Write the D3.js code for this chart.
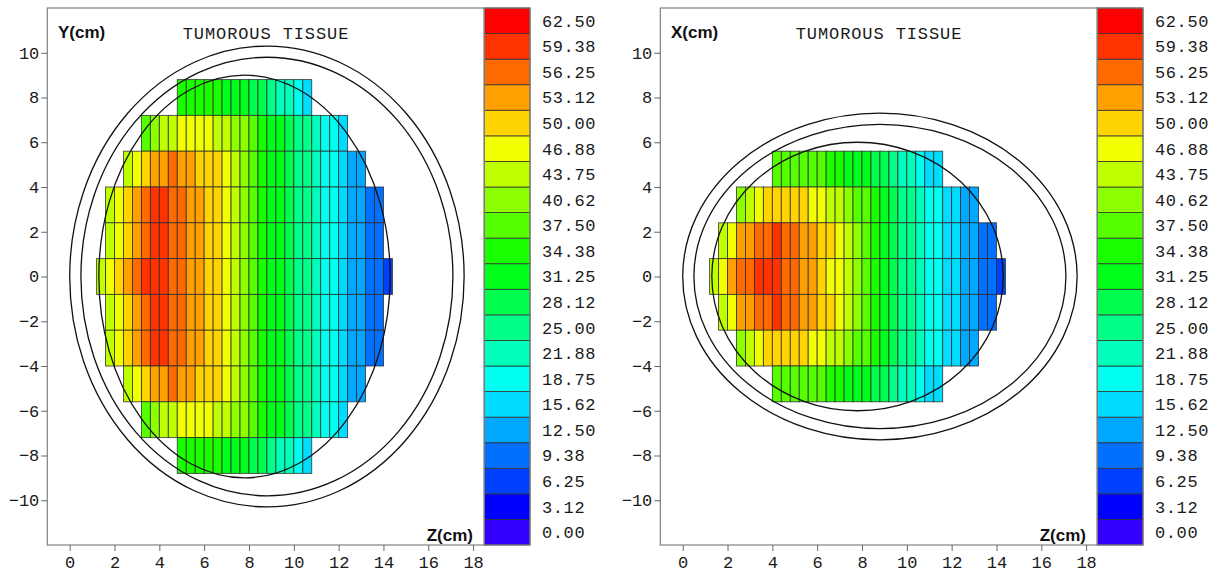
<!DOCTYPE html>
<html>
<head>
<meta charset="utf-8">
<script src="https://cdn.jsdelivr.net/npm/d3@7"></script>
<style>
  body { margin: 0; background: #fff; }
  svg { display: block; }
</style>
</head>
<body>
<div id="chart"></div>
<script>
// colour levels of the scale bar (bottom to top)
const levels = [0.00, 3.12, 6.25, 9.38, 12.50, 15.62, 18.75, 21.88, 25.00, 28.12, 31.25,
                34.38, 37.50, 40.62, 43.75, 46.88, 50.00, 53.12, 56.25, 59.38, 62.50];
const levelColors = ["#3300ff", "#0000ff", "#0040ff", "#0070ff", "#00a8ff", "#00dcff", "#00ffee",
                     "#00ffbb", "#00ff88", "#00ff4d", "#00ff1a", "#1aff00", "#55ff00", "#8cff00",
                     "#bfff00", "#f2ff00", "#ffd400", "#ffa000", "#ff6a00", "#ff3300", "#ff0000"];

const zTicks = [0, 2, 4, 6, 8, 10, 12, 14, 16, 18];
const vTicks = [-10, -8, -6, -4, -2, 0, 2, 4, 6, 8, 10];

const cellWidth = 0.4;   // cm along Z
const rowHeight = 1.6;   // cm across

// Y-Z plane: dose per cell, one array per row (row centre / first Z)
const yzRow8   = [34, 34, 34, 34, 34, 31, 31, 31, 28, 28, 25, 22, 22, 19, 16];
const yzRow6_4 = [37, 41, 44, 44, 47, 47, 47, 47, 44, 44, 41, 41, 37, 34, 31, 31, 28, 25, 25, 22, 19, 19, 16];
const yzRow4_8 = [44, 47, 50, 53, 53, 56, 53, 53, 50, 50, 50, 47, 44, 41, 37, 34, 31, 31, 28, 25, 25, 22, 19, 19, 16, 12, 12];
const yzRow3_2 = [44, 47, 50, 53, 56, 59, 59, 56, 56, 53, 53, 50, 50, 47, 44, 41, 37, 34, 31, 31, 28, 25, 25, 22, 19, 19, 16, 12, 12, 9, 9];
const yzRow1_6 = [44, 47, 50, 53, 56, 59, 59, 56, 56, 53, 53, 50, 50, 47, 44, 41, 37, 34, 31, 31, 28, 25, 25, 22, 19, 19, 16, 12, 12, 9, 9];
const yzRow0   = [44, 47, 50, 53, 56, 59, 59, 59, 56, 56, 53, 53, 50, 50, 47, 44, 41, 37, 34, 31, 31, 28, 25, 25, 22, 19, 19, 16, 12, 12, 9, 9, 6];

const yzRows = [
  { c: 8.0,  z0: 4.8, v: yzRow8 },
  { c: 6.4,  z0: 3.2, v: yzRow6_4 },
  { c: 4.8,  z0: 2.4, v: yzRow4_8 },
  { c: 3.2,  z0: 1.6, v: yzRow3_2 },
  { c: 1.6,  z0: 1.6, v: yzRow1_6 },
  { c: 0.0,  z0: 1.2, v: yzRow0 },
  { c: -1.6, z0: 1.6, v: yzRow1_6 },
  { c: -3.2, z0: 1.6, v: yzRow3_2 },
  { c: -4.8, z0: 2.4, v: yzRow4_8 },
  { c: -6.4, z0: 3.2, v: yzRow6_4 },
  { c: -8.0, z0: 4.8, v: yzRow8 }
];

// X-Z plane
const xzRow4_8 = [37, 37, 37, 37, 37, 37, 34, 34, 31, 31, 31, 28, 28, 25, 22, 22, 19, 16, 16];
const xzRow3_2 = [41, 44, 47, 50, 50, 50, 50, 50, 47, 47, 44, 44, 41, 37, 37, 34, 31, 28, 25, 25, 22, 19, 19, 16, 16, 12, 12];
const xzRow1_6 = [44, 47, 53, 53, 56, 56, 59, 56, 56, 53, 53, 50, 50, 47, 44, 41, 37, 34, 31, 28, 25, 25, 22, 19, 19, 16, 16, 12, 12, 9, 9];
const xzRow0   = [44, 47, 53, 56, 56, 59, 59, 59, 56, 56, 53, 53, 50, 47, 47, 44, 41, 37, 34, 31, 28, 25, 25, 22, 19, 19, 16, 16, 12, 12, 9, 9, 6];

const xzRows = [
  { c: 4.8,  z0: 4.0, v: xzRow4_8 },
  { c: 3.2,  z0: 2.4, v: xzRow3_2 },
  { c: 1.6,  z0: 1.6, v: xzRow1_6 },
  { c: 0.0,  z0: 1.2, v: xzRow0 },
  { c: -1.6, z0: 1.6, v: xzRow1_6 },
  { c: -3.2, z0: 2.4, v: xzRow3_2 },
  { c: -4.8, z0: 4.0, v: xzRow4_8 }
];

// body contours (ellipses): centre z, centre across, half-axes
const yzShells = [
  { cz: 8.8, cv: 0, rz: 8.8, rv: 10.3 },
  { cz: 8.8, cv: 0, rz: 8.3, rv: 9.8 },
  { cz: 7.8, cv: 0, rz: 6.5, rv: 9.0 }
];
const xzShells = [
  { cz: 8.8, cv: 0, rz: 8.8, rv: 7.3 },
  { cz: 8.8, cv: 0, rz: 8.3, rv: 6.8 },
  { cz: 7.8, cv: 0, rz: 6.5, rv: 6.0 }
];

const panels = [
  { dx: 0,   axisLabel: "Y(cm)", rows: yzRows, shells: yzShells },
  { dx: 613, axisLabel: "X(cm)", rows: xzRows, shells: xzShells }
];

const W = 1217, H = 574;
const monoFont = "'Liberation Mono', 'DejaVu Sans Mono', monospace";

const svg = d3.select("#chart").append("svg")
    .attr("width", W)
    .attr("height", H);

const x = d3.scaleLinear().domain([-1, 18.5]).range([47.3, 484.3]);
const y = d3.scaleLinear().domain([-12, 12]).range([545, 8]);

const thresholds = levels.slice(1).map((v, i) => (v + levels[i]) / 2);
const color = d3.scaleThreshold().domain(thresholds).range(levelColors);

const bandY = d3.scaleBand().domain(levels.slice().reverse()).range([8, 545]);

panels.forEach(p => {
  const g = svg.append("g").attr("transform", `translate(${p.dx},0)`);

  // plot frame
  g.append("rect")
      .attr("x", x.range()[0]).attr("y", 8)
      .attr("width", x.range()[1] - x.range()[0]).attr("height", 537)
      .attr("fill", "#fff").attr("stroke", "#808080").attr("stroke-width", 1.2);

  // cells
  const cells = [];
  p.rows.forEach(r => {
    r.v.forEach((val, i) => cells.push({ z: r.z0 + i * cellWidth, c: r.c, val }));
  });

  g.append("g").selectAll("rect")
    .data(cells)
    .join("rect")
      .attr("x", d => x(d.z))
      .attr("y", d => y(d.c + rowHeight / 2))
      .attr("width", d => x(d.z + cellWidth) - x(d.z))
      .attr("height", d => y(d.c - rowHeight / 2) - y(d.c + rowHeight / 2))
      .attr("fill", d => color(d.val))
      .attr("stroke", "#2a2a2a")
      .attr("stroke-opacity", 0.85)
      .attr("stroke-width", 0.9);

  // contours
  g.append("g").selectAll("ellipse")
    .data(p.shells)
    .join("ellipse")
      .attr("cx", d => x(d.cz))
      .attr("cy", d => y(d.cv))
      .attr("rx", d => x(d.cz + d.rz) - x(d.cz))
      .attr("ry", d => y(d.cv - d.rv) - y(d.cv))
      .attr("fill", "none")
      .attr("stroke", "#111")
      .attr("stroke-width", 1.3);

  // axes
  const ax = g.append("g")
      .attr("transform", "translate(0,545)")
      .call(d3.axisBottom(x).tickValues(zTicks).tickSize(6).tickPadding(5).tickFormat(d3.format("d")));
  const ay = g.append("g")
      .attr("transform", `translate(${x.range()[0]},0)`)
      .call(d3.axisLeft(y).tickValues(vTicks).tickSize(6).tickPadding(2).tickFormat(d3.format("d")));
  [ax, ay].forEach(a => {
    a.select(".domain").remove();
    a.selectAll(".tick line").attr("stroke", "#666");
    a.selectAll(".tick text")
        .attr("font-family", monoFont)
        .attr("font-size", 17)
        .attr("fill", "#1a1a1a");
  });

  // labels
  g.append("text")
      .attr("x", 266).attr("y", 39)
      .attr("text-anchor", "middle")
      .attr("font-family", monoFont)
      .attr("font-size", 17)
      .attr("letter-spacing", 0.9)
      .attr("fill", "#1a1a1a")
      .text("TUMOROUS TISSUE");

  g.append("text")
      .attr("x", 58).attr("y", 38)
      .attr("font-family", "'Liberation Sans', Arial, sans-serif")
      .attr("font-weight", "bold")
      .attr("font-size", 17)
      .attr("fill", "#111")
      .text(p.axisLabel);

  g.append("text")
      .attr("x", 473).attr("y", 541)
      .attr("text-anchor", "end")
      .attr("font-family", "'Liberation Sans', Arial, sans-serif")
      .attr("font-weight", "bold")
      .attr("font-size", 17)
      .attr("fill", "#111")
      .text("Z(cm)");

  // colour scale bar
  const bar = g.append("g");
  bar.selectAll("rect")
    .data(levels)
    .join("rect")
      .attr("x", 484.3)
      .attr("y", d => bandY(d))
      .attr("width", 45.7)
      .attr("height", bandY.bandwidth())
      .attr("fill", (d, i) => levelColors[i])
      .attr("stroke", "#333")
      .attr("stroke-width", 0.8);
  bar.append("rect")
      .attr("x", 484.3).attr("y", 8)
      .attr("width", 45.7).attr("height", 537)
      .attr("fill", "none").attr("stroke", "#808080").attr("stroke-width", 1.2);
  bar.selectAll("text")
    .data(levels)
    .join("text")
      .attr("x", 542)
      .attr("y", d => bandY(d) + bandY.bandwidth() / 2)
      .attr("dy", "0.35em")
      .attr("font-family", monoFont)
      .attr("font-size", 17)
      .attr("letter-spacing", 0.6)
      .attr("fill", "#1a1a1a")
      .text(d => d.toFixed(2));
});
</script>
</body>
</html>
